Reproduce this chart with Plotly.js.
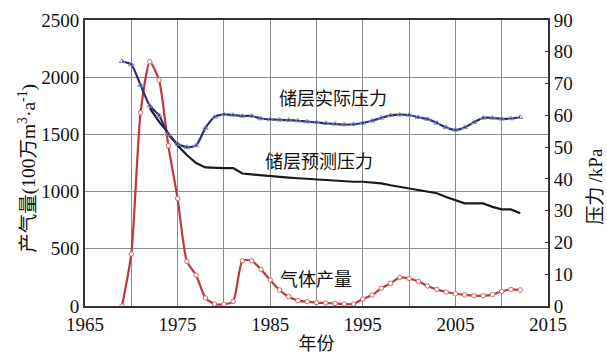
<!DOCTYPE html>
<html>
<head>
<meta charset="utf-8">
<script src="https://cdn.plot.ly/plotly-3.0.1.min.js"></script>
<style>html,body{margin:0;padding:0;background:#fff;}#chart{width:607px;height:359px;}</style>
</head>
<body>
<div id="chart"></div>
<script>
// Gas production (100万 m3/a), yearly 1969-2012
var gasYears = [1969,1970,1971,1972,1973,1974,1975,1976,1977,1978,1979,1980,1981,1982,1983,1984,1985,1986,1987,1988,1989,1990,1991,1992,1993,1994,1995,1996,1997,1998,1999,2000,2001,2002,2003,2004,2005,2006,2007,2008,2009,2010,2011,2012];
var gasProd = [0,455,1690,2135,1975,1400,940,390,270,70,17,15,40,396,396,320,227,140,81,47,38,30,26,22,17,17,61,96,155,198,250,240,215,175,145,122,107,97,90,90,100,128,145,140];

// Actual reservoir pressure (kPa)
var actYears = gasYears;
var actPress = [77,76,69.5,63,60,54,51,50,50.5,56,59.5,60.3,60.1,59.8,59.8,59,58.7,58.6,58.5,58.3,58,57.8,57.5,57.3,57.1,57.2,57.6,58.3,59.2,60,60.2,60.1,59.4,58.8,57.6,56.2,55.4,56.2,57.8,59.2,59.2,58.9,59.0,59.4];

// Predicted reservoir pressure (kPa)
var predYears = [1972,1973,1974,1975,1976,1977,1978,1979,1980,1981,1982,1983,1984,1985,1986,1987,1988,1989,1990,1991,1992,1993,1994,1995,1996,1997,1998,1999,2000,2001,2002,2003,2004,2005,2006,2007,2008,2009,2010,2011,2012];
var predPress = [62.3,58,54.4,50.5,47.5,45,43.6,43.4,43.4,43.4,41.7,41.4,41.1,40.8,40.6,40.4,40.2,40.0,39.8,39.6,39.4,39.2,39.1,39.1,38.9,38.6,38.0,37.5,37.0,36.5,36.1,35.5,34.3,33.2,32.3,32.3,32.3,31.2,30.4,30.4,29.2];

// Tick labels
var xTickVals = [1965,1970,1975,1980,1985,1990,1995,2000,2005,2010,2015];
var xTickText = ['1965','','1975','','1985','','1995','','2005','','2015'];
var yTickVals = [0,500,1000,1500,2000,2500];
var y2TickVals = [0,10,20,30,40,50,60,70,80,90];

var labels = [
  {text:'储层实际压力', x:1991.8, y:1827},
  {text:'储层预测压力', x:1990.3, y:1276},
  {text:'气体产量', x:1989.9, y:245}
];

var serif = "Liberation Serif";
var cjk = "Noto Sans CJK SC";
var sp = '<span style="font-family:Liberation Serif">';
function sf(t){ return t === '' ? '' : sp + t + '</span>'; }

var traces = [
  {x:predYears, y:predPress, yaxis:'y2', type:'scatter', mode:'lines',
   line:{color:'#1a1a1a', width:2.2}, hoverinfo:'skip'},
  {x:actYears, y:actPress, yaxis:'y2', type:'scatter', mode:'lines+markers',
   line:{color:'#2b2e78', width:2.2, shape:'spline', smoothing:0.6},
   marker:{symbol:'triangle-up-open', size:5, color:'#8a8fc0', line:{width:1}}, hoverinfo:'skip'},
  {x:gasYears, y:gasProd, type:'scatter', mode:'lines+markers',
   line:{color:'#c0383c', width:2.2, shape:'spline', smoothing:0.6},
   marker:{symbol:'circle', size:4.5, color:'#ffffff', line:{color:'#d06a6c', width:1}}, hoverinfo:'skip'}
];

var leftTitle = '产气量' + sp + '(100</span>万' + sp + 'm<sup>3</sup>·a<sup>-1</sup>)</span>';
var rightTitle = '压力 ' + sp + '/kPa</span>';

var anns = labels.map(function(l){return {text:l.text, x:l.x, y:l.y, xref:'x', yref:'y',
    showarrow:false, font:{family:cjk, size:18, color:'#111'}};});
anns.push({text:leftTitle, xref:'paper', yref:'paper', x:-0.125, y:0.48, textangle:-90,
  showarrow:false, xanchor:'center', yanchor:'middle', font:{family:cjk, size:19.5, color:'#111'}});
anns.push({text:rightTitle, xref:'paper', yref:'paper', x:1.099, y:0.42, textangle:-90,
  showarrow:false, xanchor:'center', yanchor:'middle', font:{family:cjk, size:19, color:'#111'}});

var layout = {
  width:607, height:359,
  margin:{l:85, r:59, t:20, b:53},
  paper_bgcolor:'#ffffff', plot_bgcolor:'#ffffff',
  showlegend:false,
  font:{family:serif, size:19, color:'#111'},
  xaxis:{range:[1965,2015], tickvals:xTickVals, ticktext:xTickText.map(sf),
    showgrid:true, gridcolor:'#8c8c8c', gridwidth:1,
    showline:true, linecolor:'#333', linewidth:2, mirror:true,
    ticks:'', zeroline:false, tickfont:{family:serif, size:19, color:'#111'},
    title:{text:'年份', font:{family:cjk, size:18, color:'#111'}, standoff:4}},
  yaxis:{range:[0,2500], tickvals:yTickVals, ticktext:yTickVals.map(function(v){return sf(String(v));}),
    showgrid:true, gridcolor:'#8c8c8c', gridwidth:1,
    showline:true, linecolor:'#333', linewidth:2, mirror:true,
    ticks:'', zeroline:false, tickfont:{family:serif, size:19, color:'#111'}},
  yaxis2:{range:[0,90], tickvals:y2TickVals, ticktext:y2TickVals.map(function(v){return sf(String(v));}),
    overlaying:'y', side:'right', showgrid:false,
    showline:true, linecolor:'#333', linewidth:2,
    ticks:'inside', ticklen:3, tickcolor:'#333', zeroline:false, tickfont:{family:serif, size:19, color:'#111'}},
  annotations: anns
};

Plotly.newPlot('chart', traces, layout, {staticPlot:true, displayModeBar:false});
</script>
</body>
</html>
